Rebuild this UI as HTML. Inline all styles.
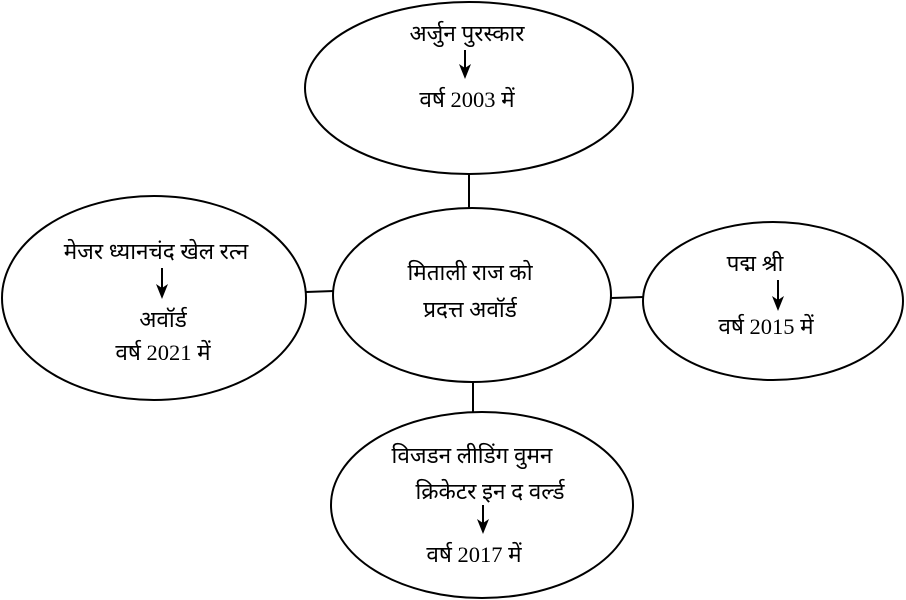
<!DOCTYPE html>
<html><head><meta charset="utf-8"><style>
html,body{margin:0;padding:0;background:#fff;}
svg{display:block;}
text{font-family:"Liberation Serif",serif;font-size:22.5px;fill:#000;text-anchor:middle;}
</style></head><body>
<svg width="906" height="600" viewBox="0 0 906 600" xmlns="http://www.w3.org/2000/svg">
<g fill="none" stroke="#000" stroke-width="2">
<ellipse cx="469" cy="88" rx="164" ry="86"/>
<ellipse cx="472" cy="295" rx="139" ry="87"/>
<ellipse cx="154" cy="298" rx="152" ry="102"/>
<ellipse cx="773" cy="301" rx="130" ry="79"/>
<ellipse cx="482" cy="505" rx="151" ry="93"/>
<line x1="469" y1="174" x2="469" y2="208"/>
<line x1="306" y1="292" x2="334" y2="291"/>
<line x1="611" y1="298" x2="644" y2="297"/>
<line x1="473" y1="382" x2="473" y2="412"/>
</g>
<g stroke="#000" stroke-width="2">
<line x1="465" y1="50" x2="465" y2="68"/>
<line x1="162" y1="268" x2="162" y2="288"/>
<line x1="778" y1="280" x2="778" y2="300"/>
<line x1="483" y1="505" x2="483" y2="523"/>
</g>
<g fill="#000">
<polygon points="459,64 465,79 471,64 465,68"/>
<polygon points="156,284 162,299 168,284 162,288"/>
<polygon points="772,296 778,311 784,296 778,300"/>
<polygon points="477,519 483,534 489,519 483,523"/>
</g>
<text x="467" y="41">अर्जुन पुरस्कार</text>
<text x="467" y="107">वर्ष 2003 में</text>
<text x="156" y="259">मेजर ध्यानचंद खेल रत्न</text>
<text x="163" y="327">अवॉर्ड</text>
<text x="163" y="360">वर्ष 2021 में</text>
<text x="470" y="280">मिताली राज को</text>
<text x="470" y="317">प्रदत्त अवॉर्ड</text>
<text x="755" y="271">पद्म श्री</text>
<text x="766" y="334">वर्ष 2015 में</text>
<text x="472" y="463">विजडन लीडिंग वुमन</text>
<text x="490" y="499">क्रिकेटर इन द वर्ल्ड</text>
<text x="474" y="562">वर्ष 2017 में</text>
</svg>
</body></html>
